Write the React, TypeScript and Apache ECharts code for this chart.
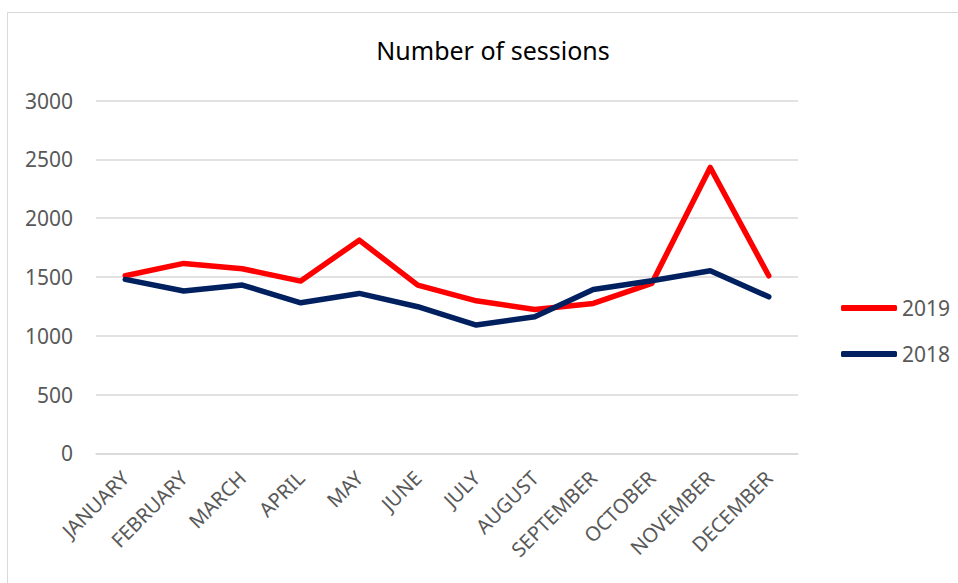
import React, { useEffect, useRef } from "react";
import * as echarts from "echarts";

const months = [
  "JANUARY", "FEBRUARY", "MARCH", "APRIL", "MAY", "JUNE",
  "JULY", "AUGUST", "SEPTEMBER", "OCTOBER", "NOVEMBER", "DECEMBER",
];
const sessions2019 = [1510, 1615, 1570, 1465, 1813, 1430, 1297, 1224, 1275, 1445, 2431, 1510];
const sessions2018 = [1479, 1380, 1431, 1280, 1360, 1247, 1091, 1161, 1394, 1467, 1552, 1331];
const yTicks = { min: 0, max: 3000, interval: 500 };

const FONT = "'Noto Sans', 'Open Sans', sans-serif";

export default function App() {
  const ref = useRef<HTMLDivElement>(null);
  useEffect(() => {
    document.body.style.margin = "0";
    if (!ref.current) return;
    const chart = echarts.init(ref.current, null, { renderer: "svg" });
    chart.setOption({
      animation: false,
      backgroundColor: "#ffffff",
      textStyle: { fontFamily: FONT },
      title: {
        text: "Number of sessions",
        left: 488,
        top: 32,
        textAlign: "center",
        textStyle: { fontSize: 25, fontWeight: "normal", color: "#000000", fontFamily: FONT },
      },
      graphic: [
        {
          type: "rect",
          shape: { x: 7.5, y: 12.5, width: 1000, height: 1000 },
          style: { fill: "none", stroke: "#d9d9d9", lineWidth: 1 },
          silent: true,
          z: -10,
        },
      ],
      legend: {
        orient: "vertical",
        left: 836,
        top: 291,
        itemWidth: 56,
        itemHeight: 6,
        itemGap: 22,
        icon: "roundRect",
        data: ["2019", "2018"],
        textStyle: { fontSize: 21, color: "#595959", lineHeight: 24, fontFamily: FONT },
      },
      grid: { left: 96, right: 160, top: 100.5, bottom: 129.6, containLabel: false },
      xAxis: {
        type: "category",
        data: months,
        boundaryGap: true,
        axisLine: { show: true, lineStyle: { color: "#d9d9d9", width: 1.5 } },
        axisTick: { show: false },
        axisLabel: {
          interval: 0,
          rotate: 45,
          fontSize: 20,
          color: "#595959",
          margin: 21,
          fontFamily: FONT,
        },
      },
      yAxis: {
        type: "value",
        min: yTicks.min,
        max: yTicks.max,
        interval: yTicks.interval,
        axisLine: { show: false },
        axisTick: { show: false },
        splitLine: { lineStyle: { color: "#d9d9d9", width: 1.5 } },
        axisLabel: {
          fontSize: 21,
          color: "#595959",
          margin: 23,
          fontFamily: FONT,
          formatter: (v: number) => String(v),
        },
      },
      series: [
        {
          name: "2019",
          type: "line",
          data: sessions2019,
          symbol: "none",
          color: "#ff0000",
          lineStyle: { width: 5.5, color: "#ff0000", cap: "round", join: "round" },
        },
        {
          name: "2018",
          type: "line",
          data: sessions2018,
          symbol: "none",
          color: "#002060",
          lineStyle: { width: 5.5, color: "#002060", cap: "round", join: "round" },
        },
      ],
    });
    return () => chart.dispose();
  }, []);
  return <div ref={ref} style={{ width: 958, height: 583 }} />;
}
